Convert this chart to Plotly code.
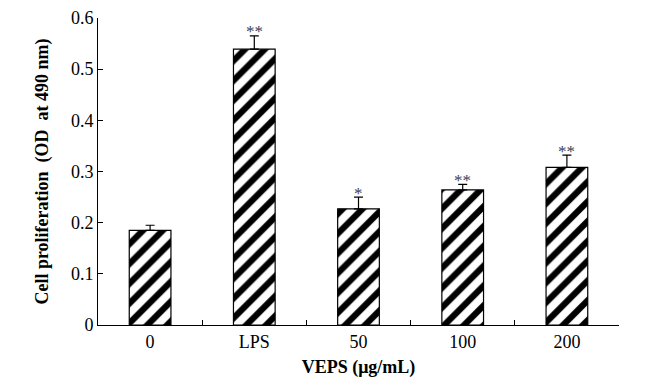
import plotly.graph_objects as go

categories = ["0", "LPS", "50", "100", "200"]
values = [0.185, 0.539, 0.227, 0.264, 0.308]
errors = [0.010, 0.026, 0.023, 0.011, 0.024]
marks = ["", "**", "*", "**", "**"]
y_ticks = [0, 0.1, 0.2, 0.3, 0.4, 0.5, 0.6]
y_ticktext = ["0", "0.1", "0.2", "0.3", "0.4", "0.5", "0.6"]

SERIF = "Liberation Serif, Times New Roman, serif"

fig = go.Figure()
fig.add_trace(go.Bar(
    x=categories, y=values, width=0.4,
    marker=dict(color="white", line=dict(color="black", width=1.2),
                pattern=dict(shape="/", fgcolor="black", bgcolor="white", fgopacity=1,
                             size=14, solidity=0.45, fillmode="replace")),
    error_y=dict(type="data", symmetric=False, array=errors, arrayminus=[0]*len(errors),
                 color="black", thickness=1.2, width=4.5),
    showlegend=False,
))
for i, (v, e, m) in enumerate(zip(values, errors, marks)):
    if m:
        fig.add_annotation(x=i, y=v + e, text=m, showarrow=False,
                           xref="x", yref="y",
                           yanchor="middle", yshift=4,
                           font=dict(family=SERIF, size=17, color="#3a4256"))

fig.update_layout(
    width=647, height=375,
    margin=dict(l=90, r=36, t=10, b=58),
    plot_bgcolor="white", paper_bgcolor="white",
    font=dict(family=SERIF, size=18, color="black"),
)
fig.update_xaxes(
    type="category", categoryorder="array", categoryarray=categories,
    range=[-0.5, len(categories) - 0.5],
    showline=True, linecolor="black", linewidth=1,
    ticks="inside", tickson="boundaries", ticklen=5, tickcolor="black",
    showgrid=False, automargin=False, tickangle=0,
    title=dict(text="<b>VEPS (μg/mL)</b>", font=dict(family=SERIF, size=18), standoff=9),
    tickfont=dict(family=SERIF, size=18),
)
fig.update_yaxes(
    range=[0, 0.6], tickvals=y_ticks, ticktext=y_ticktext,
    showline=True, linecolor="black", linewidth=1,
    ticks="inside", ticklen=5, tickcolor="black",
    showgrid=False, zeroline=False, automargin=False,
    title=dict(text="<b>Cell proliferation  (OD  at 490 nm)</b>", font=dict(family=SERIF, size=18), standoff=17),
    tickfont=dict(family=SERIF, size=18),
)

fig.write_html("out.html")
